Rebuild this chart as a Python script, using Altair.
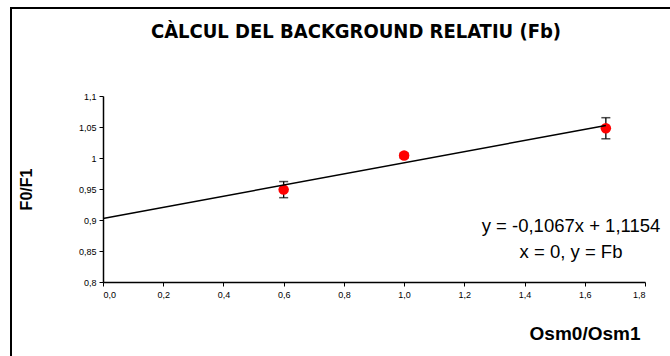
import altair as alt
import pandas as pd

# Measured points: osmolarity ratio vs. fluorescence ratio, with error
osm_ratio = [0.6, 1.0, 1.67]
f_ratio = [0.949, 1.004, 1.048]
f_err = [0.013, 0.004, 0.017]

x_ticks = [0.0, 0.2, 0.4, 0.6, 0.8, 1.0, 1.2, 1.4, 1.6, 1.8]
y_ticks = [0.8, 0.85, 0.9, 0.95, 1.0, 1.05, 1.1]

title_text = "CÀLCUL DEL BACKGROUND RELATIU (Fb)"
equation_lines = ["y = -0,1067x + 1,1154", "x = 0, y = Fb"]

df = pd.DataFrame({"x": osm_ratio, "y": f_ratio, "err": f_err})
df["lo"] = df["y"] - df["err"]
df["hi"] = df["y"] + df["err"]

FONT = "Liberation Sans"

x_scale = alt.Scale(domain=[0, 1.8], nice=False, zero=False)
y_scale = alt.Scale(domain=[0.8, 1.1], nice=False, zero=False)

x_axis = alt.Axis(
    values=x_ticks,
    labelExpr="replace(format(datum.value, '.1f'), '.', ',')",
    labelOverlap=False,
    title="Osm0/Osm1",
    titleAnchor="end",
    titleAlign="right",
    titleBaseline="alphabetic",
    titleX=537,
    titleY=57,
    titleFontSize=19,
    titleFontWeight="bold",
    titleFont=FONT,
    labelFont=FONT,
    labelFontSize=9,
    labelColor="black",
    tickSize=4,
    tickColor="black",
    domainColor="black",
    domainWidth=1.5,
    grid=False,
    labelPadding=4,
)
y_axis = alt.Axis(
    values=y_ticks,
    labelExpr="replace(format(datum.value, ''), '.', ',')",
    labelOverlap=False,
    title="F0/F1",
    titleX=-69,
    titleFontSize=16,
    titleFontWeight="bold",
    titleFont=FONT,
    labelFont=FONT,
    labelFontSize=9,
    labelColor="black",
    tickSize=4,
    tickColor="black",
    domainColor="black",
    domainWidth=1.5,
    grid=False,
    labelPadding=3,
)

X = alt.X("x:Q", scale=x_scale, axis=x_axis)

base = alt.Chart(df)

frame = alt.Chart(pd.DataFrame({"k": [0]})).mark_rect(
    fill=None, stroke="black", strokeWidth=2
).encode(
    x=alt.value(-92), x2=alt.value(700), y=alt.value(-88), y2=alt.value(400)
)

heading = alt.Chart(pd.DataFrame({"t": [title_text]})).mark_text(
    font="DejaVu Sans Condensed", fontSize=20, fontWeight="bold", color="black",
    align="center", baseline="alphabetic"
).encode(x=alt.value(253), y=alt.value(-58), text="t")

bars = base.mark_rule(color="black", strokeWidth=1.3).encode(
    x=X,
    y=alt.Y("lo:Q", scale=y_scale, axis=y_axis),
    y2="hi:Q",
)
caps_hi = base.mark_tick(color="black", orient="horizontal", size=9, thickness=1.5).encode(
    x=X, y=alt.Y("hi:Q", scale=y_scale, axis=y_axis)
)
caps_lo = base.mark_tick(color="black", orient="horizontal", size=9, thickness=1.5).encode(
    x=X, y=alt.Y("lo:Q", scale=y_scale, axis=y_axis)
)

points = base.mark_point(filled=True, color="#ff0000", opacity=1, size=110, shape="circle").encode(
    x=X, y=alt.Y("y:Q", scale=y_scale, axis=y_axis)
)

trend = base.transform_regression("x", "y", extent=[0, 1.67]).mark_line(
    color="black", strokeWidth=1.5
).encode(x=X, y=alt.Y("y:Q", scale=y_scale, axis=y_axis))

eq = alt.Chart(pd.DataFrame({"t": [equation_lines]})).mark_text(
    font=FONT, fontSize=18.5, color="black", align="center", baseline="middle", lineHeight=26
).encode(x=alt.value(468), y=alt.value(130), text="t")

chart = alt.layer(frame, heading, bars, caps_hi, caps_lo, points, trend, eq).properties(
    width=542,
    height=186,
    autosize=alt.AutoSizeParams(type="none"),
    padding={"left": 103, "top": 96, "right": 25, "bottom": 74},
    background="white",
).configure_view(strokeWidth=0, stroke="transparent")

chart.save("out.html", embed_options={"renderer": "svg", "actions": False})
